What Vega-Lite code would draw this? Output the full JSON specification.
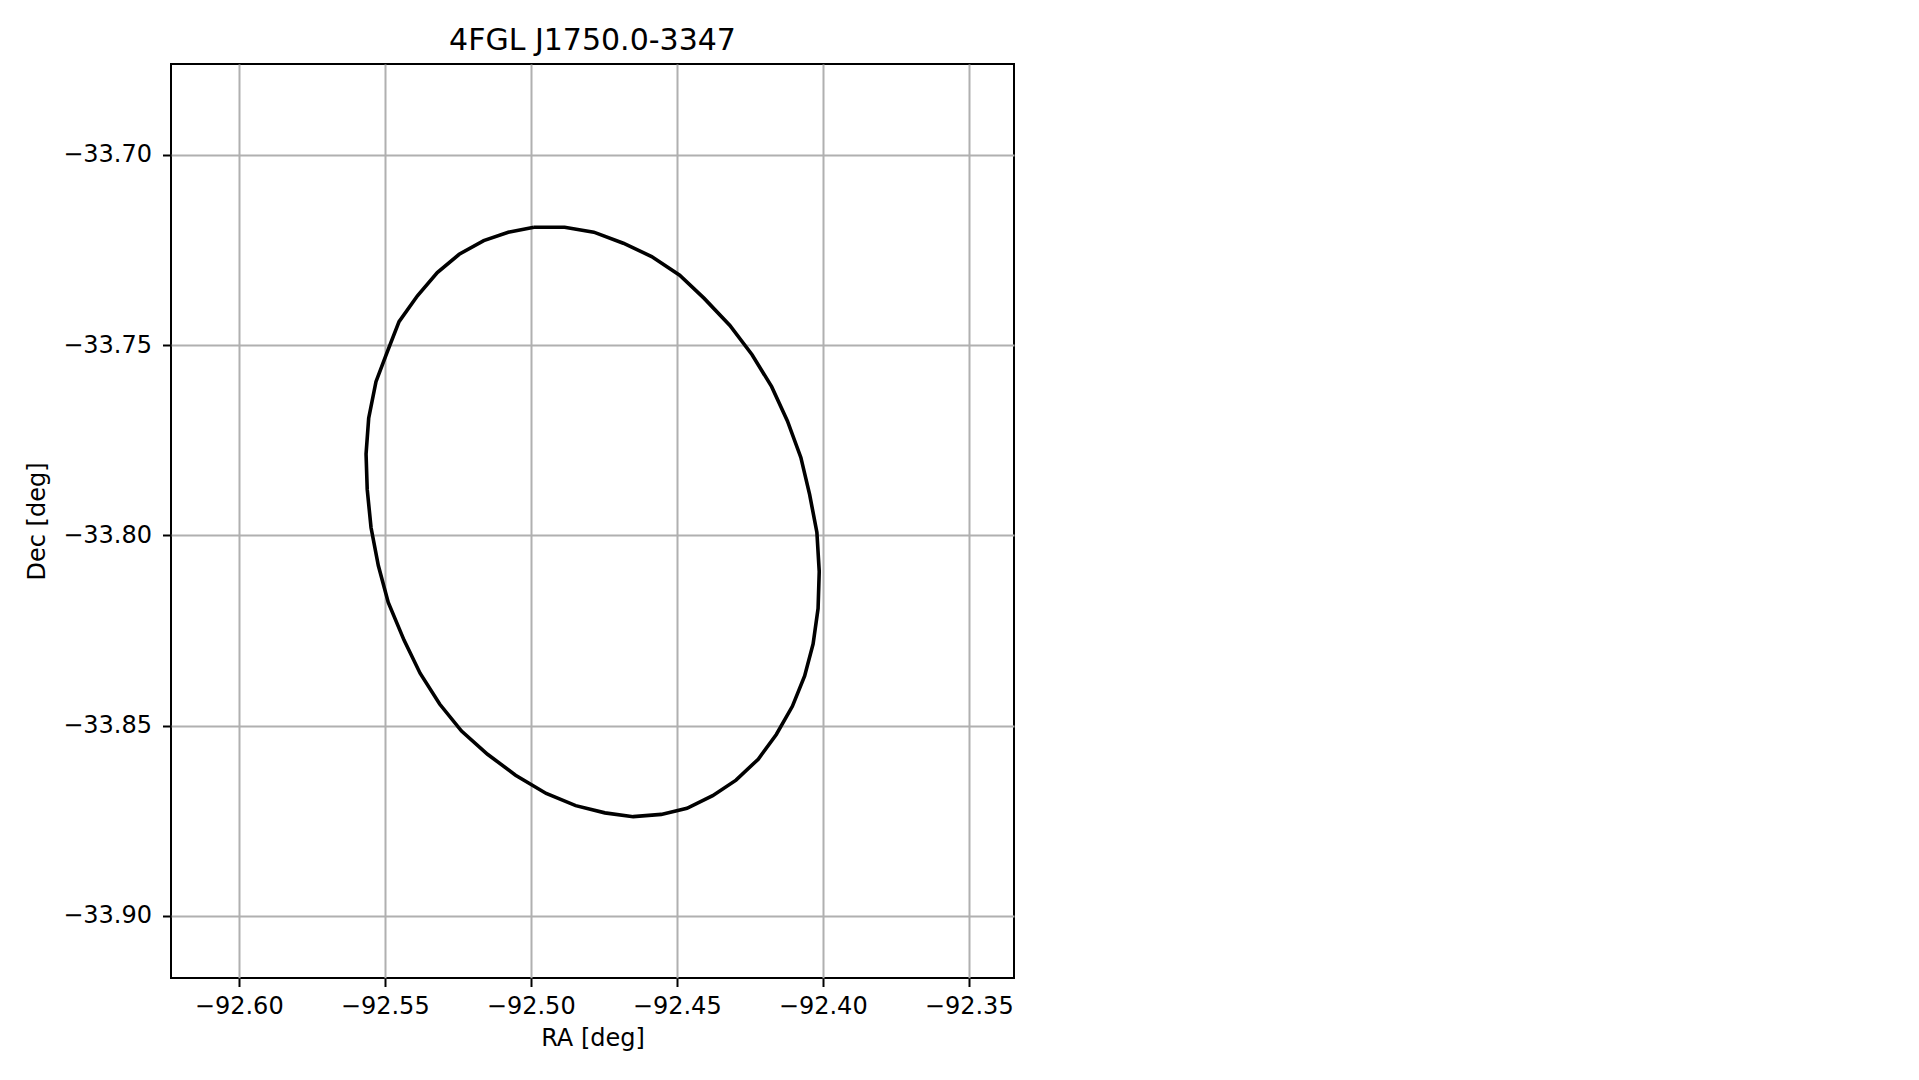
{
  "$schema": "https://vega.github.io/schema/vega-lite/v6.json",
  "autosize": {"type": "none"},
  "padding": {"left": 171, "top": 64, "right": 905, "bottom": 102},
  "width": 843,
  "height": 914,
  "background": "white",
  "title": {"text": "4FGL J1750.0-3347", "font": "DejaVu Sans", "fontSize": 30, "fontWeight": "normal", "color": "black", "anchor": "middle", "baseline": "alphabetic", "offset": 15, "dy": 31},
  "config": {
    "view": {"stroke": "black", "strokeWidth": 2},
    "axis": {"labelFont": "DejaVu Sans", "titleFont": "DejaVu Sans", "labelFontSize": 24, "titleFontSize": 24, "titleFontWeight": "normal", "labelColor": "black", "titleColor": "black", "tickColor": "black", "tickSize": 8.5, "tickWidth": 2, "labelPadding": 8, "domain": false, "grid": true, "gridColor": "#b0b0b0", "gridWidth": 2, "gridOpacity": 1}
  },
  "data": {"values": [
    {"i": 1, "ra": -92.4989, "dec": -33.7190},
    {"i": 2, "ra": -92.4884, "dec": -33.7190},
    {"i": 3, "ra": -92.4784, "dec": -33.7203},
    {"i": 4, "ra": -92.4683, "dec": -33.7232},
    {"i": 5, "ra": -92.4586, "dec": -33.7267},
    {"i": 6, "ra": -92.4490, "dec": -33.7316},
    {"i": 7, "ra": -92.4406, "dec": -33.7377},
    {"i": 8, "ra": -92.4318, "dec": -33.7448},
    {"i": 9, "ra": -92.4242, "dec": -33.7525},
    {"i": 10, "ra": -92.4175, "dec": -33.7609},
    {"i": 11, "ra": -92.4121, "dec": -33.7699},
    {"i": 12, "ra": -92.4075, "dec": -33.7795},
    {"i": 13, "ra": -92.4045, "dec": -33.7892},
    {"i": 14, "ra": -92.4020, "dec": -33.7992},
    {"i": 15, "ra": -92.4012, "dec": -33.8095},
    {"i": 16, "ra": -92.4016, "dec": -33.8192},
    {"i": 17, "ra": -92.4033, "dec": -33.8285},
    {"i": 18, "ra": -92.4062, "dec": -33.8369},
    {"i": 19, "ra": -92.4104, "dec": -33.8449},
    {"i": 20, "ra": -92.4159, "dec": -33.8523},
    {"i": 21, "ra": -92.4221, "dec": -33.8588},
    {"i": 22, "ra": -92.4297, "dec": -33.8643},
    {"i": 23, "ra": -92.4377, "dec": -33.8684},
    {"i": 24, "ra": -92.4465, "dec": -33.8717},
    {"i": 25, "ra": -92.4553, "dec": -33.8733},
    {"i": 26, "ra": -92.4649, "dec": -33.8739},
    {"i": 27, "ra": -92.4746, "dec": -33.8729},
    {"i": 28, "ra": -92.4846, "dec": -33.8710},
    {"i": 29, "ra": -92.4947, "dec": -33.8678},
    {"i": 30, "ra": -92.5052, "dec": -33.8630},
    {"i": 31, "ra": -92.5148, "dec": -33.8575},
    {"i": 32, "ra": -92.5237, "dec": -33.8514},
    {"i": 33, "ra": -92.5312, "dec": -33.8443},
    {"i": 34, "ra": -92.5379, "dec": -33.8362},
    {"i": 35, "ra": -92.5434, "dec": -33.8275},
    {"i": 36, "ra": -92.5488, "dec": -33.8176},
    {"i": 37, "ra": -92.5522, "dec": -33.8079},
    {"i": 38, "ra": -92.5547, "dec": -33.7979},
    {"i": 39, "ra": -92.5560, "dec": -33.7879},
    {"i": 40, "ra": -92.5564, "dec": -33.7786},
    {"i": 41, "ra": -92.5555, "dec": -33.7692},
    {"i": 42, "ra": -92.5530, "dec": -33.7596},
    {"i": 43, "ra": -92.5492, "dec": -33.7519},
    {"i": 44, "ra": -92.5451, "dec": -33.7438},
    {"i": 45, "ra": -92.5388, "dec": -33.7370},
    {"i": 46, "ra": -92.5320, "dec": -33.7309},
    {"i": 47, "ra": -92.5245, "dec": -33.7261},
    {"i": 48, "ra": -92.5161, "dec": -33.7225},
    {"i": 49, "ra": -92.5077, "dec": -33.7203},
    {"i": 50, "ra": -92.4989, "dec": -33.7190}
  ]},
  "mark": {"type": "line", "color": "black", "strokeWidth": 3.6, "clip": true},
  "encoding": {
    "order": {"field": "i", "type": "quantitative"},
    "x": {"field": "ra", "type": "quantitative", "scale": {"domain": [-92.6232, -92.3345], "nice": false, "zero": false},
      "axis": {"values": [-92.6, -92.55, -92.5, -92.45, -92.4, -92.35], "format": ".2f", "title": "RA [deg]", "titlePadding": 8}},
    "y": {"field": "dec", "type": "quantitative", "scale": {"domain": [-33.9163, -33.6761], "nice": false, "zero": false},
      "axis": {"values": [-33.9, -33.85, -33.8, -33.75, -33.7], "format": ".2f", "title": "Dec [deg]", "titlePadding": 13, "labelPadding": 11}}
  }
}
